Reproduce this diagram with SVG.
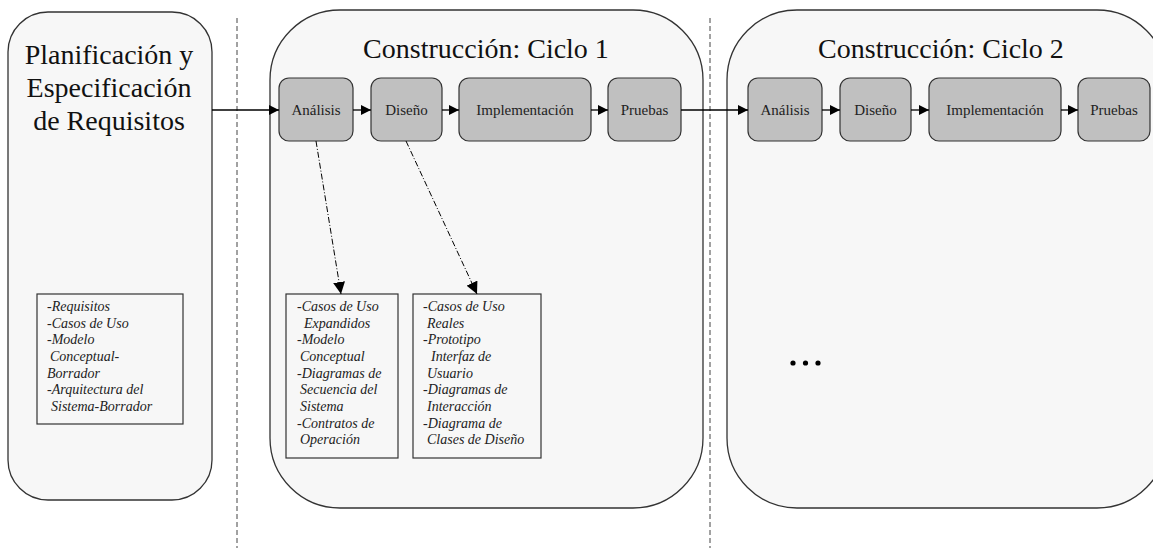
<svg xmlns="http://www.w3.org/2000/svg" width="1153" height="548" viewBox="0 0 1153 548">
<defs>
<marker id="ah" viewBox="0 0 10 10" refX="10" refY="5" markerWidth="10" markerHeight="10" markerUnits="userSpaceOnUse" orient="auto">
<path d="M0,0 L10,5 L0,10 z" fill="#000"/>
</marker>
<marker id="ah2" viewBox="0 0 10 10" refX="10" refY="5" markerWidth="12" markerHeight="12" markerUnits="userSpaceOnUse" orient="auto">
<path d="M0,0 L10,5 L0,10 z" fill="#000"/>
</marker>
</defs>
<style>
.phase{fill:#f7f7f7;stroke:#333;stroke-width:1.3}
.proc{fill:#c0c0c0;stroke:#333;stroke-width:1.2}
.note{fill:#f7f7f7;stroke:#333;stroke-width:1.2}
.big{font-family:"Liberation Serif","Times New Roman",serif;font-size:28px;fill:#111;text-anchor:middle}
.lbl{font-family:"Liberation Serif","Times New Roman",serif;font-size:15px;fill:#222;text-anchor:middle}
.it{font-family:"Liberation Serif","Times New Roman",serif;font-size:14px;font-style:italic;fill:#222}
.sep{stroke:#444;stroke-width:1;stroke-dasharray:5 3;fill:none}
.flow{stroke:#000;stroke-width:1.3;fill:none;marker-end:url(#ah)}
.dd{stroke:#000;stroke-width:1;fill:none;stroke-dasharray:6 2 1 2;marker-end:url(#ah2)}
</style>
<rect width="1153" height="548" fill="#fff"/>
<g id="separators">
<line class="sep" x1="237" y1="18" x2="237" y2="548"/>
<line class="sep" x1="710" y1="18" x2="710" y2="548"/>
</g>
<g id="fase-planificacion">
<rect class="phase" x="8" y="12" width="204" height="488" rx="40" ry="40"/>
<text class="big" x="109" y="64">Planificación y</text>
<text class="big" x="109" y="97">Especificación</text>
<text class="big" x="109" y="130">de Requisitos</text>
</g>
<g id="ciclo1">
<rect class="phase" x="270" y="10" width="433" height="498" rx="70" ry="70"/>
<text class="big" x="486" y="58">Construcción: Ciclo 1</text>
</g>
<g id="ciclo2">
<rect class="phase" x="727" y="10" width="440" height="498" rx="70" ry="70"/>
<text class="big" x="941" y="58">Construcción: Ciclo 2</text>
</g>
<g id="c1-analisis"><rect class="proc" x="279" y="78" width="74" height="63" rx="10"/><text class="lbl" x="316" y="115">Análisis</text></g>
<g id="c1-diseno"><rect class="proc" x="371" y="78" width="71" height="63" rx="10"/><text class="lbl" x="406.5" y="115">Diseño</text></g>
<g id="c1-implementacion"><rect class="proc" x="459" y="78" width="132" height="63" rx="10"/><text class="lbl" x="525" y="115">Implementación</text></g>
<g id="c1-pruebas"><rect class="proc" x="608" y="78" width="73" height="63" rx="10"/><text class="lbl" x="644.5" y="115">Pruebas</text></g>
<g id="c2-analisis"><rect class="proc" x="748" y="78" width="74" height="63" rx="10"/><text class="lbl" x="785" y="115">Análisis</text></g>
<g id="c2-diseno"><rect class="proc" x="840" y="78" width="71" height="63" rx="10"/><text class="lbl" x="875.5" y="115">Diseño</text></g>
<g id="c2-implementacion"><rect class="proc" x="929" y="78" width="132" height="63" rx="10"/><text class="lbl" x="995" y="115">Implementación</text></g>
<g id="c2-pruebas"><rect class="proc" x="1078" y="78" width="72" height="63" rx="10"/><text class="lbl" x="1114" y="115">Pruebas</text></g>
<g id="nota-requisitos">
<rect class="note" x="37" y="294" width="146" height="130"/>
<text class="it"><tspan x="47" y="311">-Requisitos</tspan><tspan x="47" y="327.7">-Casos de Uso</tspan><tspan x="47" y="344.4">-Modelo</tspan><tspan x="50" y="361">Conceptual-</tspan><tspan x="47" y="377.7">Borrador</tspan><tspan x="47" y="394.4">-Arquitectura del</tspan><tspan x="51" y="411">Sistema-Borrador</tspan></text>
</g>
<g id="nota-analisis">
<rect class="note" x="286" y="294" width="112" height="164"/>
<text class="it"><tspan x="297" y="311">-Casos de Uso</tspan><tspan x="304" y="327.7">Expandidos</tspan><tspan x="297" y="344.4">-Modelo</tspan><tspan x="300" y="361">Conceptual</tspan><tspan x="297" y="377.7">-Diagramas de</tspan><tspan x="300" y="394.4">Secuencia del</tspan><tspan x="300" y="411">Sistema</tspan><tspan x="297" y="427.7">-Contratos de</tspan><tspan x="300" y="444.4">Operación</tspan></text>
</g>
<g id="nota-diseno">
<rect class="note" x="413" y="294" width="128" height="164"/>
<text class="it"><tspan x="423" y="311">-Casos de Uso</tspan><tspan x="427" y="327.7">Reales</tspan><tspan x="423" y="344.4">-Prototipo</tspan><tspan x="431" y="361">Interfaz de</tspan><tspan x="427" y="377.7">Usuario</tspan><tspan x="423" y="394.4">-Diagramas de</tspan><tspan x="427" y="411">Interacción</tspan><tspan x="423" y="427.7">-Diagrama de</tspan><tspan x="427" y="444.4">Clases de Diseño</tspan></text>
</g>
<g id="continua">
<circle cx="793" cy="363" r="2.6" fill="#000"/>
<circle cx="805.5" cy="363" r="2.6" fill="#000"/>
<circle cx="818" cy="363" r="2.6" fill="#000"/>
</g>
<g id="connectors">
<line class="flow" x1="212" y1="110" x2="279" y2="110"/>
<line class="flow" x1="353" y1="110" x2="371" y2="110"/>
<line class="flow" x1="442" y1="110" x2="459" y2="110"/>
<line class="flow" x1="591" y1="110" x2="608" y2="110"/>
<line class="flow" x1="681" y1="110" x2="748" y2="110"/>
<line class="flow" x1="822" y1="110" x2="840" y2="110"/>
<line class="flow" x1="911" y1="110" x2="929" y2="110"/>
<line class="flow" x1="1061" y1="110" x2="1078" y2="110"/>
<line class="dd" x1="316" y1="141" x2="341" y2="294"/>
<line class="dd" x1="406" y1="141" x2="477" y2="294"/>
</g>
</svg>
